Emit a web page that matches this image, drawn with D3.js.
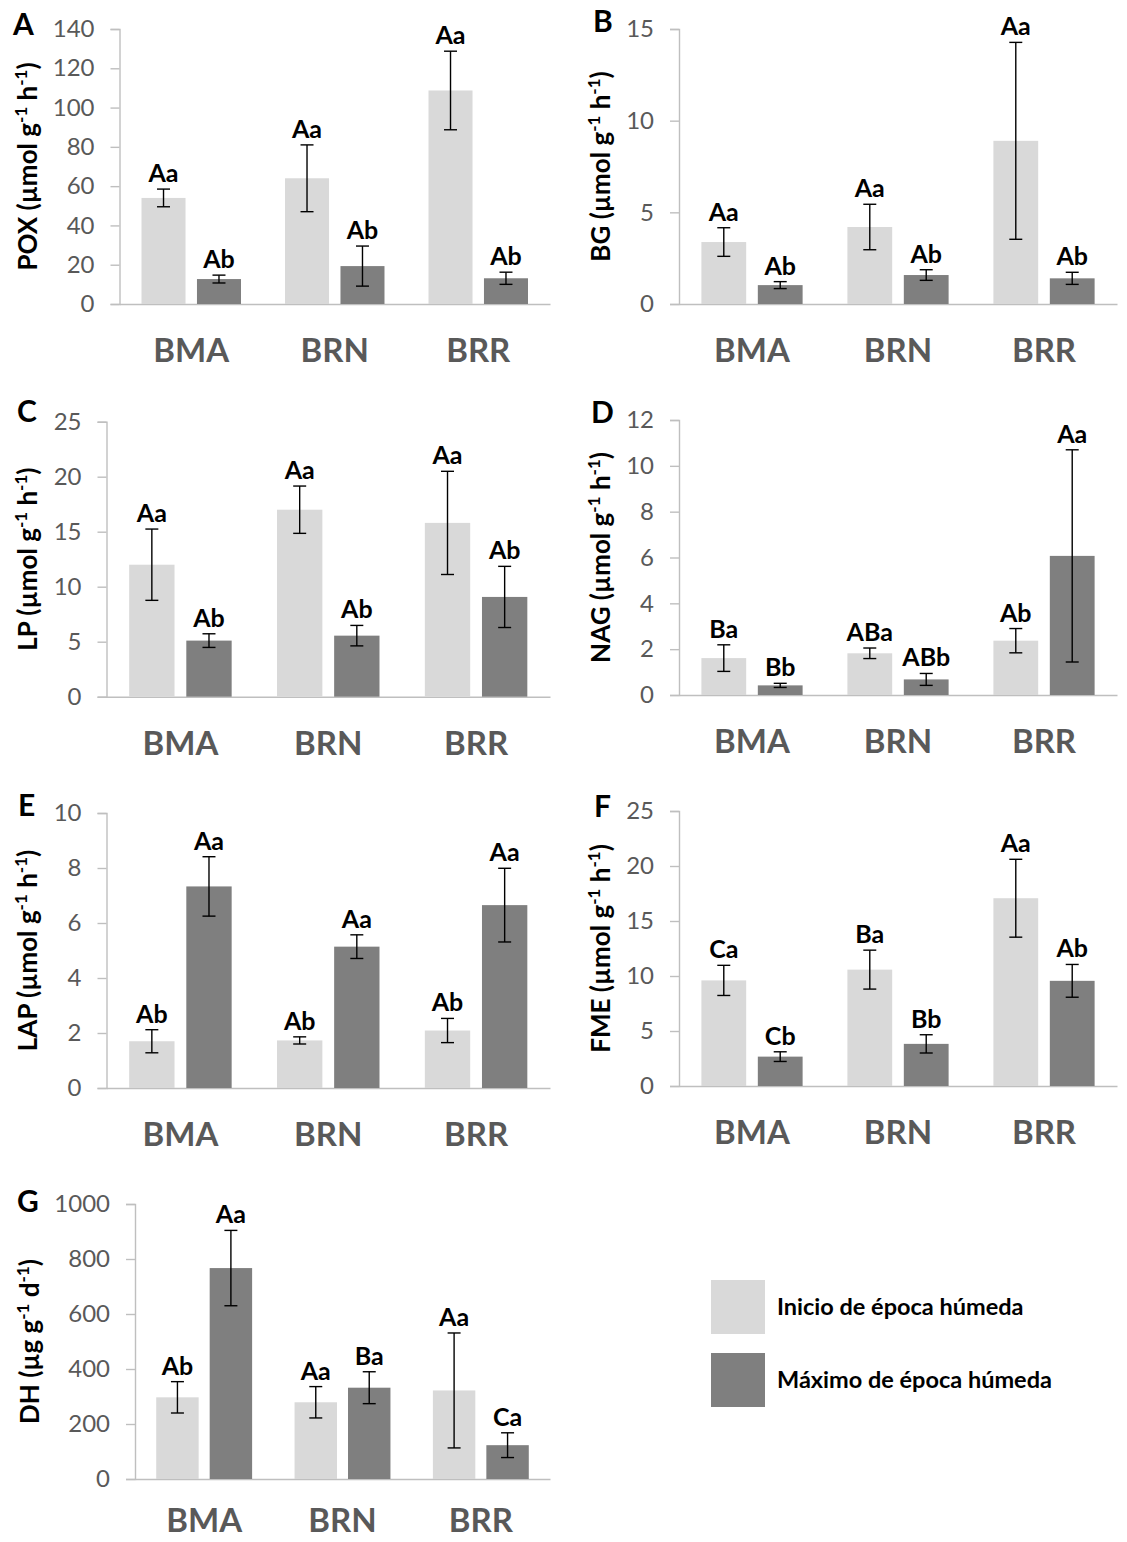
<!DOCTYPE html>
<html>
<head>
<meta charset="utf-8">
<script src="https://cdn.jsdelivr.net/npm/d3@7"></script>
<style>
  html, body { margin: 0; padding: 0; background: #fff; }
  svg { display: block; font-family: Lato, "Open Sans", sans-serif; }
</style>
</head>
<body>
<svg id="chart" width="1127" height="1542"></svg>
<script>
// Sites and sampling moments
const categories = ["BMA", "BRN", "BRR"];
const seriesNames = ["Inicio de época húmeda", "Máximo de época húmeda"];
const seriesColors = ["#d9d9d9", "#7f7f7f"];

// POX (µmol g-1 h-1)
const poxInicio = [54.0, 64.0, 108.7];
const poxInicioErr = [4.5, 17.0, 20.0];
const poxMaximo = [12.7, 19.3, 13.1];
const poxMaximoErr = [2.0, 10.2, 3.1];
const poxInicioLetters = ["Aa", "Aa", "Aa"];
const poxMaximoLetters = ["Ab", "Ab", "Ab"];
const poxTicks = [0, 20, 40, 60, 80, 100, 120, 140];

// BG (µmol g-1 h-1)
const bgInicio = [3.38, 4.2, 8.9];
const bgInicioErr = [0.78, 1.24, 5.37];
const bgMaximo = [1.03, 1.58, 1.4];
const bgMaximoErr = [0.19, 0.29, 0.33];
const bgInicioLetters = ["Aa", "Aa", "Aa"];
const bgMaximoLetters = ["Ab", "Ab", "Ab"];
const bgTicks = [0, 5, 10, 15];

// LP (µmol g-1 h-1)
const lpInicio = [12.0, 17.0, 15.8];
const lpInicioErr = [3.24, 2.15, 4.69];
const lpMaximo = [5.1, 5.55, 9.07];
const lpMaximoErr = [0.62, 0.93, 2.78];
const lpInicioLetters = ["Aa", "Aa", "Aa"];
const lpMaximoLetters = ["Ab", "Ab", "Ab"];
const lpTicks = [0, 5, 10, 15, 20, 25];

// NAG (µmol g-1 h-1)
const nagInicio = [1.61, 1.82, 2.37];
const nagInicioErr = [0.58, 0.23, 0.53];
const nagMaximo = [0.42, 0.68, 6.07];
const nagMaximoErr = [0.09, 0.26, 4.63];
const nagInicioLetters = ["Ba", "ABa", "Ab"];
const nagMaximoLetters = ["Bb", "ABb", "Aa"];
const nagTicks = [0, 2, 4, 6, 8, 10, 12];

// LAP (µmol g-1 h-1)
const lapInicio = [1.7, 1.73, 2.09];
const lapInicioErr = [0.42, 0.13, 0.44];
const lapMaximo = [7.33, 5.14, 6.65];
const lapMaximoErr = [1.08, 0.43, 1.34];
const lapInicioLetters = ["Ab", "Ab", "Ab"];
const lapMaximoLetters = ["Aa", "Aa", "Aa"];
const lapTicks = [0, 2, 4, 6, 8, 10];

// FME (µmol g-1 h-1)
const fmeInicio = [9.6, 10.58, 17.07];
const fmeInicioErr = [1.37, 1.77, 3.54];
const fmeMaximo = [2.67, 3.83, 9.56];
const fmeMaximoErr = [0.44, 0.83, 1.49];
const fmeInicioLetters = ["Ca", "Ba", "Aa"];
const fmeMaximoLetters = ["Cb", "Bb", "Ab"];
const fmeTicks = [0, 5, 10, 15, 20, 25];

// DH (µg g-1 d-1)
const dhInicio = [297, 279, 322];
const dhInicioErr = [57, 57, 209];
const dhMaximo = [767, 332, 123];
const dhMaximoErr = [137, 58, 45];
const dhInicioLetters = ["Ab", "Aa", "Aa"];
const dhMaximoLetters = ["Aa", "Ba", "Ca"];
const dhTicks = [0, 200, 400, 600, 800, 1000];

// Panel definitions: data references plus placement on the page
const panels = [
  { tag: "A", name: "POX", unit: ["µmol g", "h"], ticks: poxTicks,
    inicio: poxInicio, inicioErr: poxInicioErr, maximo: poxMaximo, maximoErr: poxMaximoErr,
    inicioLetters: poxInicioLetters, maximoLetters: poxMaximoLetters,
    top: 29, left: 119.5, right: 550, titleX: 37, tagX: 13, tagDy: 6, catY: 58 },
  { tag: "B", name: "BG", unit: ["µmol g", "h"], ticks: bgTicks,
    inicio: bgInicio, inicioErr: bgInicioErr, maximo: bgMaximo, maximoErr: bgMaximoErr,
    inicioLetters: bgInicioLetters, maximoLetters: bgMaximoLetters,
    top: 29, left: 679, right: 1117, titleX: 610, tagX: 593, tagDy: 3, catY: 58 },
  { tag: "C", name: "LP", unit: ["µmol g", "h"], ticks: lpTicks,
    inicio: lpInicio, inicioErr: lpInicioErr, maximo: lpMaximo, maximoErr: lpMaximoErr,
    inicioLetters: lpInicioLetters, maximoLetters: lpMaximoLetters,
    top: 421.7, left: 106.5, right: 550, titleX: 37, tagX: 17, tagDy: 0, catY: 58 },
  { tag: "D", name: "NAG", unit: ["µmol g", "h"], ticks: nagTicks,
    inicio: nagInicio, inicioErr: nagInicioErr, maximo: nagMaximo, maximoErr: nagMaximoErr,
    inicioLetters: nagInicioLetters, maximoLetters: nagMaximoLetters,
    top: 420, left: 679, right: 1117, titleX: 610, tagX: 591, tagDy: 3, catY: 58 },
  { tag: "E", name: "LAP", unit: ["µmol g", "h"], ticks: lapTicks,
    inicio: lapInicio, inicioErr: lapInicioErr, maximo: lapMaximo, maximoErr: lapMaximoErr,
    inicioLetters: lapInicioLetters, maximoLetters: lapMaximoLetters,
    top: 813, left: 106.5, right: 550, titleX: 37, tagX: 18, tagDy: 3, catY: 58 },
  { tag: "F", name: "FME", unit: ["µmol g", "h"], ticks: fmeTicks,
    inicio: fmeInicio, inicioErr: fmeInicioErr, maximo: fmeMaximo, maximoErr: fmeMaximoErr,
    inicioLetters: fmeInicioLetters, maximoLetters: fmeMaximoLetters,
    top: 811, left: 679, right: 1117, titleX: 610, tagX: 594, tagDy: 6, catY: 58 },
  { tag: "G", name: "DH", unit: ["µg g", "d"], ticks: dhTicks,
    inicio: dhInicio, inicioErr: dhInicioErr, maximo: dhMaximo, maximoErr: dhMaximoErr,
    inicioLetters: dhInicioLetters, maximoLetters: dhMaximoLetters,
    top: 1204, left: 135, right: 550, titleX: 39, tagX: 17, tagDy: 8, catY: 53 }
];

const plotHeight = 275;
const axisColor = "#bfbfbf";
const tickTextColor = "#595959";
const svg = d3.select("#chart");

panels.forEach(p => {
  const g = svg.append("g");
  const bottom = p.top + plotHeight;
  const ymax = d3.max(p.ticks);

  const y = d3.scaleLinear().domain([0, ymax]).range([bottom, p.top]);
  const x0 = d3.scaleBand().domain(categories).range([p.left, p.right])
    .paddingInner(0).paddingOuter(0);
  const x1 = d3.scaleBand().domain([0, 1]).range([0, x0.bandwidth()])
    .paddingInner(0.2063).paddingOuter(0.3968);

  // value axis
  const yAxis = d3.axisLeft(y).tickValues(p.ticks).tickSize(9).tickPadding(16)
    .tickFormat(d3.format("d"));
  const ya = g.append("g").attr("transform", `translate(${p.left},0)`).call(yAxis);
  ya.select(".domain").attr("stroke", axisColor).attr("stroke-width", 1.4);
  ya.selectAll(".tick line").attr("stroke", axisColor).attr("stroke-width", 1.4);
  ya.selectAll(".tick text").attr("fill", tickTextColor)
    .attr("font-size", 24).attr("font-family", "Lato");

  // category axis
  const xAxis = d3.axisBottom(x0).tickSize(0).tickPadding(0);
  const xa = g.append("g").attr("transform", `translate(0,${bottom})`).call(xAxis);
  xa.select(".domain").attr("stroke", axisColor).attr("stroke-width", 1.6);
  xa.selectAll(".tick text")
    .attr("fill", tickTextColor).attr("font-size", 33).attr("font-weight", "bold")
    .attr("font-family", "Lato").attr("dy", 0).attr("y", p.catY);

  const series = [
    { vals: p.inicio, errs: p.inicioErr, letters: p.inicioLetters, color: seriesColors[0] },
    { vals: p.maximo, errs: p.maximoErr, letters: p.maximoLetters, color: seriesColors[1] }
  ];

  series.forEach((s, si) => {
    const rows = categories.map((c, i) => ({ c, v: s.vals[i], e: s.errs[i], l: s.letters[i] }));
    const cx = d => x0(d.c) + x1(si) + x1.bandwidth() / 2;

    g.selectAll(null).data(rows).join("rect")
      .attr("x", d => x0(d.c) + x1(si))
      .attr("width", x1.bandwidth())
      .attr("y", d => y(d.v))
      .attr("height", d => bottom - y(d.v))
      .attr("fill", s.color);

    const eb = g.selectAll(null).data(rows).join("g").attr("stroke", "#000").attr("stroke-width", 1.4);
    eb.append("line").attr("x1", cx).attr("x2", cx)
      .attr("y1", d => y(d.v + d.e)).attr("y2", d => y(d.v - d.e));
    eb.append("line").attr("x1", d => cx(d) - 6.5).attr("x2", d => cx(d) + 6.5)
      .attr("y1", d => y(d.v + d.e)).attr("y2", d => y(d.v + d.e));
    eb.append("line").attr("x1", d => cx(d) - 6.5).attr("x2", d => cx(d) + 6.5)
      .attr("y1", d => y(d.v - d.e)).attr("y2", d => y(d.v - d.e));

    g.selectAll(null).data(rows).join("text")
      .attr("x", cx).attr("y", d => y(d.v + d.e) - 7)
      .attr("text-anchor", "middle").attr("font-size", 25).attr("font-weight", "bold")
      .attr("fill", "#000").text(d => d.l);
  });

  // axis title with superscripts
  const midY = (p.top + bottom) / 2;
  const title = g.append("text")
    .attr("transform", `translate(${p.titleX},${midY}) rotate(-90)`)
    .attr("text-anchor", "middle").attr("font-size", 26).attr("font-weight", "bold")
    .attr("fill", "#000");
  title.append("tspan").text(`${p.name} (${p.unit[0]}`);
  title.append("tspan").attr("font-size", 17).attr("dy", -10).text("-1");
  title.append("tspan").attr("dy", 10).text(` ${p.unit[1]}`);
  title.append("tspan").attr("font-size", 17).attr("dy", -10).text("-1");
  title.append("tspan").attr("dy", 10).text(")");

  // panel tag
  g.append("text").attr("x", p.tagX).attr("y", p.top + p.tagDy)
    .attr("font-size", 30).attr("font-weight", "bold").attr("fill", "#000").text(p.tag);
});

// legend
const legend = svg.append("g");
const legendY = d3.scalePoint().domain(seriesNames).range([1307, 1380]);
seriesNames.forEach((n, i) => {
  legend.append("rect").attr("x", 711).attr("y", legendY(n) - 27)
    .attr("width", 54).attr("height", 54).attr("fill", seriesColors[i]);
  legend.append("text").attr("x", 777).attr("y", legendY(n) + 8)
    .attr("font-size", 23.5).attr("font-weight", "bold").attr("fill", "#000").text(n);
});
</script>
</body>
</html>
